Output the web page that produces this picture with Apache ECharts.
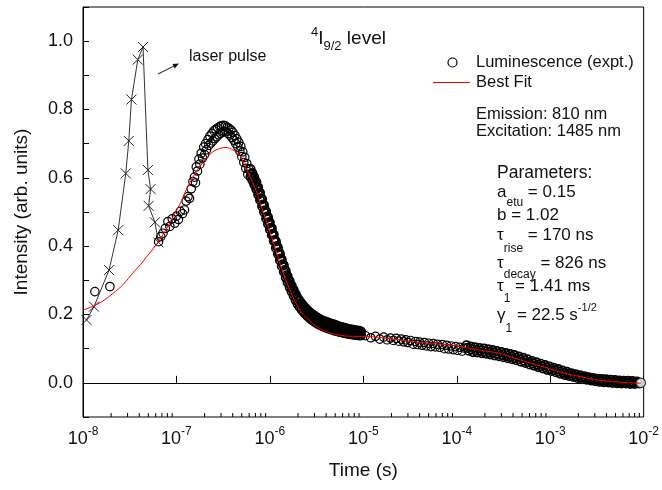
<!DOCTYPE html>
<html>
<head>
<meta charset="utf-8">
<script src="https://cdn.jsdelivr.net/npm/echarts@6/dist/echarts.min.js"></script>
<style>html,body{margin:0;padding:0;background:#fff}#c{width:662px;height:490px}</style>
</head>
<body>
<div id="c"></div>
<script>
// ---- data ----
const xTickExponents = [-8, -7, -6, -5, -4, -3, -2];
const yTickLabels = ['0.0', '0.2', '0.4', '0.6', '0.8', '1.0'];

// laser pulse (x markers), in acquisition order
const laserPulse = [
  [1.09e-8, 0.184], [1.31e-8, 0.223], [1.90e-8, 0.330], [2.38e-8, 0.447],
  [2.87e-8, 0.613], [3.09e-8, 0.708], [3.30e-8, 0.829], [3.86e-8, 0.946],
  [4.39e-8, 0.983], [4.95e-8, 0.623], [5.29e-8, 0.567], [5.04e-8, 0.518],
  [5.88e-8, 0.470], [6.44e-8, 0.411]
];

// luminescence (open circles)
const lumEarly = [[1.34e-8, 0.267], [1.94e-8, 0.282]];
const lumRise = [
  [6.44e-8,0.413],[6.8e-8,0.428],[7.18e-8,0.438],[7.6e-8,0.452],[8.1e-8,0.472],[8.5e-8,0.458],
  [9.0e-8,0.480],[9.6e-8,0.467],[1.0e-7,0.488],[1.05e-7,0.478],[1.1e-7,0.502],[1.16e-7,0.495],
  [1.22e-7,0.506],[1.27e-7,0.532],[1.33e-7,0.545],[1.38e-7,0.540],[1.44e-7,0.568],[1.5e-7,0.589],
  [1.56e-7,0.602],[1.6e-7,0.585],[1.63e-7,0.632],[1.68e-7,0.620],[1.74e-7,0.655],[1.78e-7,0.640],
  [1.84e-7,0.672],[1.9e-7,0.658],[1.96e-7,0.690],[2.0e-7,0.668],[2.05e-7,0.700],[2.1e-7,0.682],
  [2.17e-7,0.712],[2.22e-7,0.695],[2.28e-7,0.722],[2.34e-7,0.702],[2.4e-7,0.730],[2.46e-7,0.708],
  [2.52e-7,0.738],[2.58e-7,0.715],[2.64e-7,0.742],[2.7e-7,0.720],[2.76e-7,0.746],[2.83e-7,0.726],
  [2.9e-7,0.750],[2.96e-7,0.730],[3.03e-7,0.752],[3.1e-7,0.734],[3.18e-7,0.754],[3.25e-7,0.736],
  [3.33e-7,0.752],[3.4e-7,0.735],[3.48e-7,0.748],[3.56e-7,0.730],[3.65e-7,0.745],[3.74e-7,0.725],
  [3.83e-7,0.740],[3.92e-7,0.718],[4.02e-7,0.733],[4.12e-7,0.710],[4.22e-7,0.724],[4.32e-7,0.700],
  [4.43e-7,0.714],[4.54e-7,0.690],[4.65e-7,0.704],[4.77e-7,0.678],[4.89e-7,0.692],[5.01e-7,0.662],
  [5.13e-7,0.676],[5.26e-7,0.645],[5.39e-7,0.660],[5.52e-7,0.628],[5.66e-7,0.642],[5.8e-7,0.610],
  [5.95e-7,0.625]
];
const lumDecay = [
  [6.2e-7,0.626],[6.2e-7,0.603],[6.5e-7,0.614],[6.5e-7,0.593],[6.8e-7,0.602],[6.8e-7,0.581],
  [7.15e-7,0.588],[7.15e-7,0.567],[7.5e-7,0.572],[7.5e-7,0.551],[7.85e-7,0.556],[7.85e-7,0.535],
  [8.25e-7,0.538],[8.25e-7,0.517],[8.65e-7,0.520],[8.65e-7,0.500],[9.1e-7,0.502],[9.1e-7,0.482],
  [9.55e-7,0.485],[9.55e-7,0.465],[1.0e-6,0.469],[1.0e-6,0.449],[1.05e-6,0.452],[1.05e-6,0.433],
  [1.1e-6,0.434],[1.1e-6,0.415],[1.16e-6,0.414],[1.16e-6,0.395],[1.22e-6,0.396],[1.22e-6,0.377],
  [1.28e-6,0.378],[1.28e-6,0.359],[1.34e-6,0.361],[1.34e-6,0.342],[1.41e-6,0.344],[1.41e-6,0.325],
  [1.48e-6,0.327],[1.48e-6,0.308],[1.55e-6,0.312],[1.55e-6,0.294],[1.63e-6,0.298],[1.63e-6,0.280],
  [1.71e-6,0.285],[1.71e-6,0.267],[1.8e-6,0.272],[1.8e-6,0.254],[1.89e-6,0.260],[1.89e-6,0.242],
  [1.98e-6,0.249],[1.98e-6,0.231],[2.08e-6,0.240],[2.08e-6,0.222],[2.19e-6,0.232],[2.19e-6,0.214],
  [2.3e-6,0.225],[2.3e-6,0.207],[2.41e-6,0.218],[2.41e-6,0.201],[2.53e-6,0.212],[2.53e-6,0.195],
  [2.66e-6,0.207],[2.66e-6,0.190],[2.79e-6,0.202],[2.79e-6,0.185],[2.93e-6,0.198],[2.93e-6,0.181],
  [3.08e-6,0.194],[3.08e-6,0.177],[3.23e-6,0.190],[3.23e-6,0.173],[3.39e-6,0.187],[3.39e-6,0.170],
  [3.56e-6,0.184],[3.56e-6,0.167],[3.74e-6,0.181],[3.74e-6,0.164],[3.93e-6,0.179],[3.93e-6,0.162],
  [4.13e-6,0.177],[4.13e-6,0.160],[4.33e-6,0.175],[4.33e-6,0.158],[4.55e-6,0.173],[4.55e-6,0.156],
  [4.78e-6,0.171],[4.78e-6,0.154],[5.02e-6,0.169],[5.02e-6,0.152],[5.27e-6,0.167],[5.27e-6,0.151],
  [5.53e-6,0.165],[5.53e-6,0.149],[5.8e-6,0.163],[5.8e-6,0.148],[6.1e-6,0.162],[6.1e-6,0.146],
  [6.4e-6,0.160],[6.4e-6,0.145],[6.7e-6,0.158],[6.7e-6,0.144],[7.05e-6,0.157],[7.05e-6,0.143],
  [7.4e-6,0.156],[7.4e-6,0.142],[7.75e-6,0.155],[7.75e-6,0.141],[8.15e-6,0.154],[8.15e-6,0.140],
  [8.55e-6,0.153],[8.55e-6,0.140],[9.0e-6,0.152],[9.0e-6,0.139],[9.45e-6,0.150],[9.45e-6,0.139]
];
const lumDecayMid = [
  [6.35e-7,0.610],[6.65e-7,0.598],[6.97e-7,0.585],[7.32e-7,0.572],[7.67e-7,0.556],[8.05e-7,0.540],
  [8.45e-7,0.522],[8.87e-7,0.505],[9.32e-7,0.487],[9.77e-7,0.470],[1.025e-6,0.454],[1.075e-6,0.436],
  [1.13e-6,0.418],[1.19e-6,0.400],[1.25e-6,0.382],[1.31e-6,0.364],[1.375e-6,0.347],[1.445e-6,0.330],
  [1.515e-6,0.315],[1.59e-6,0.300],[1.67e-6,0.286],[1.755e-6,0.273],[1.845e-6,0.261],[1.935e-6,0.249],
  [2.03e-6,0.239],[2.135e-6,0.230],[2.245e-6,0.222],[2.355e-6,0.214],[2.47e-6,0.208],[2.595e-6,0.202],
  [2.725e-6,0.197],[2.86e-6,0.192],[3.0e-6,0.188],[3.155e-6,0.184],[3.31e-6,0.180],[3.475e-6,0.177],
  [3.65e-6,0.174],[3.835e-6,0.171],[4.03e-6,0.169],[4.23e-6,0.167],[4.44e-6,0.165],[4.665e-6,0.163],
  [4.9e-6,0.161],[5.145e-6,0.160],[5.4e-6,0.158],[5.665e-6,0.157],[5.95e-6,0.155],[6.25e-6,0.154],
  [6.55e-6,0.152],[6.875e-6,0.151],[7.225e-6,0.150],[7.575e-6,0.149],[7.95e-6,0.148],[8.35e-6,0.147],
  [8.775e-6,0.146],[9.225e-6,0.145]
];
const lumPlateau = [
  [1.05e-5,0.138],[1.2e-5,0.132],[1.35e-5,0.136],[1.5e-5,0.128],[1.65e-5,0.134],[1.8e-5,0.126],
  [1.95e-5,0.131],[2.1e-5,0.124],[2.25e-5,0.130],[2.4e-5,0.122],[2.55e-5,0.128],[2.7e-5,0.120],
  [2.85e-5,0.126],[3.0e-5,0.118],[3.2e-5,0.124],[3.4e-5,0.113],[3.6e-5,0.121],[3.8e-5,0.112],
  [4.0e-5,0.119],[4.25e-5,0.110],[4.5e-5,0.118],[4.75e-5,0.108],[5.0e-5,0.116],[5.3e-5,0.106],
  [5.6e-5,0.115],[5.9e-5,0.105],[6.2e-5,0.113],[6.6e-5,0.104],[7.0e-5,0.112],[7.4e-5,0.100],
  [7.8e-5,0.110],[8.2e-5,0.099],[8.7e-5,0.108],[9.2e-5,0.097],[9.7e-5,0.106],[1.02e-4,0.095],
  [1.08e-4,0.104],[1.14e-4,0.093],[1.2e-4,0.102]
];
const lumTail = [
  [1.27e-4,0.110],[1.34e-4,0.094],[1.41e-4,0.106],[1.49e-4,0.090],[1.57e-4,0.104],[1.66e-4,0.089],
  [1.75e-4,0.102],[1.85e-4,0.087],[1.95e-4,0.100],[2.06e-4,0.085],[2.17e-4,0.098],[2.29e-4,0.083],
  [2.42e-4,0.096],[2.55e-4,0.080],[2.69e-4,0.093],[2.84e-4,0.078],[3.0e-4,0.090],[3.16e-4,0.075],
  [3.34e-4,0.087],[3.52e-4,0.072],[3.72e-4,0.084],[3.92e-4,0.069],[4.14e-4,0.081],[4.37e-4,0.066],
  [4.61e-4,0.077],[4.87e-4,0.062],[5.14e-4,0.073],[5.42e-4,0.058],[5.72e-4,0.069],[6.04e-4,0.054],
  [6.38e-4,0.064],[6.73e-4,0.050],[7.1e-4,0.060],[7.5e-4,0.046],[7.9e-4,0.056],[8.35e-4,0.042],
  [8.8e-4,0.052],[9.3e-4,0.038],[9.8e-4,0.048],[1.03e-3,0.035],[1.09e-3,0.044],[1.15e-3,0.031],
  [1.22e-3,0.040],[1.28e-3,0.027],[1.35e-3,0.036],[1.43e-3,0.023],[1.51e-3,0.032],[1.59e-3,0.020],
  [1.68e-3,0.028],[1.77e-3,0.017],[1.87e-3,0.025],[1.97e-3,0.014],[2.08e-3,0.022],[2.2e-3,0.011],
  [2.32e-3,0.019],[2.45e-3,0.009],[2.58e-3,0.016],[2.73e-3,0.007],[2.88e-3,0.014],[3.04e-3,0.005],
  [3.2e-3,0.012],[3.38e-3,0.003],[3.57e-3,0.011],[3.76e-3,0.002],[3.97e-3,0.010],[4.19e-3,0.001],
  [4.42e-3,0.009],[4.67e-3,0.000],[4.93e-3,0.008],[5.2e-3,-0.001],[5.49e-3,0.007],[5.79e-3,-0.002],
  [6.11e-3,0.006],[6.45e-3,-0.002],[6.81e-3,0.006],[7.18e-3,-0.003],[7.58e-3,0.005],[8.0e-3,-0.003],
  [8.44e-3,0.004],[8.9e-3,-0.002]
];
const lumTailMid = [
  [1.3e-4,0.102],[1.45e-4,0.098],[1.61e-4,0.096],[1.8e-4,0.094],[2.0e-4,0.092],[2.23e-4,0.090],
  [2.48e-4,0.088],[2.76e-4,0.085],[3.08e-4,0.082],[3.43e-4,0.079],[3.82e-4,0.076],[4.25e-4,0.073],
  [4.74e-4,0.069],[5.28e-4,0.065],[5.88e-4,0.061],[6.55e-4,0.057],[7.3e-4,0.053],[8.12e-4,0.049],
  [9.05e-4,0.045],[1.0e-3,0.041],[1.12e-3,0.037],[1.25e-3,0.033],[1.39e-3,0.029],[1.55e-3,0.026],
  [1.72e-3,0.022],[1.92e-3,0.019],[2.14e-3,0.016],[2.38e-3,0.014],[2.65e-3,0.011],[2.95e-3,0.009],
  [3.29e-3,0.007],[3.66e-3,0.006],[4.08e-3,0.005],[4.54e-3,0.004],[5.06e-3,0.003],[5.64e-3,0.002],
  [6.28e-3,0.002],[6.99e-3,0.001],[7.79e-3,0.001],[8.67e-3,0.001]
];
const lumLast = [9.3e-3, 0.000];

// best fit (red line)
const fitT = [1.0e-8,1.3e-8,1.6e-8,2.1e-8,2.7e-8,3.4e-8,4.1e-8,4.8e-8,5.6e-8,6.6e-8,7.8e-8,9.2e-8,
  1.1e-7,1.27e-7,1.5e-7,1.77e-7,2.1e-7,2.45e-7,2.9e-7,3.4e-7,4.0e-7,4.72e-7,5.3e-7,6.0e-7,7.1e-7,
  8.0e-7,9.1e-7,1.03e-6,1.16e-6,1.3e-6,1.48e-6,1.68e-6,1.9e-6,2.2e-6,2.63e-6,3.2e-6,3.96e-6,5.0e-6,
  6.5e-6,9e-6,1.24e-5,1.7e-5,2.4e-5,3.5e-5,5.5e-5,8.2e-5,1.2e-4,1.8e-4,2.8e-4,4.2e-4,6.3e-4,
  9.5e-4,1.44e-3,2.2e-3,3.24e-3,5e-3,7e-3,9.3e-3];
const fitY = [0.213,0.225,0.238,0.262,0.288,0.321,0.345,0.369,0.392,0.418,0.450,0.486,
  0.525,0.564,0.602,0.632,0.658,0.676,0.686,0.689,0.682,0.667,0.642,0.608,0.564,
  0.520,0.477,0.432,0.389,0.345,0.301,0.265,0.233,0.205,0.184,0.163,0.150,0.142,
  0.137,0.136,0.135,0.131,0.126,0.120,0.115,0.111,0.104,0.095,0.087,0.072,0.057,
  0.043,0.028,0.017,0.008,0.003,0.000,-0.001];

// ---- chart ----
const FONT = 'Liberation Sans, Arial, sans-serif';
const INK = '#111';
const minorTickVals = [];
for (let e = -8; e < -2; e++) for (let k = 2; k <= 9; k++) minorTickVals.push([k * Math.pow(10, e)]);

const chart = echarts.init(document.getElementById('c'), null, {renderer: 'canvas'});

const mainStyle = {fontSize: 17, fontFamily: FONT, color: INK, padding: [4, 0, 0, 0], verticalAlign: 'top'};
const subStyle = (d) => ({fontSize: 12, fontFamily: FONT, color: INK, padding: [8 + d, 0, 0, 0], verticalAlign: 'top'});
const supStyle = {fontSize: 11, fontFamily: FONT, color: INK, verticalAlign: 'top'};
const titleMain = {fontSize: 19, fontFamily: FONT, color: INK, padding: [4, 0, 0, 0], verticalAlign: 'top'};
const titleSub = {fontSize: 13, fontFamily: FONT, color: INK, padding: [14, 0, 0, 0], verticalAlign: 'top'};
const titleSup = {fontSize: 13, fontFamily: FONT, color: INK, verticalAlign: 'top'};

function richText(left, top, text, rich) {
  return {type: 'text', left: left, top: top, style: {text: text, rich: rich, font: '17px ' + FONT, fill: INK}};
}

function ringSeries(name, data, lw) {
  return {
    name: name, type: 'custom', z: 2, silent: true, data: data,
    renderItem: (params, api) => {
      const p = api.coord([api.value(0), api.value(1)]);
      return {type: 'circle', shape: {cx: p[0], cy: p[1], r: 4.2}, style: {fill: null, stroke: '#000', lineWidth: lw}};
    }
  };
}

const option = {
  animation: false,
  backgroundColor: '#fff',
  grid: {left: 83, right: 15, top: 7, bottom: 73, show: true, borderColor: '#000', borderWidth: 1},
  xAxis: {
    type: 'log', logBase: 10, min: 1e-8, max: 1e-2, interval: 1,
    name: 'Time (s)', nameLocation: 'middle', nameGap: 44,
    nameTextStyle: {fontSize: 19, fontFamily: FONT, color: INK},
    axisLine: {lineStyle: {color: '#000', width: 1}},
    axisTick: {inside: true, length: 7, lineStyle: {color: '#000'}},
    splitLine: {show: false},
    axisLabel: {
      margin: 9, color: INK,
      formatter: (v) => '{b|10}{s|' + Math.round(Math.log10(v)) + '}',
      rich: {
        b: {fontSize: 18, fontFamily: FONT, color: INK, padding: [4, 0, 0, 0], verticalAlign: 'top'},
        s: {fontSize: 12, fontFamily: FONT, color: INK, verticalAlign: 'top'}
      }
    }
  },
  yAxis: {
    type: 'value', min: -0.1, max: 1.1, interval: 0.1,
    name: 'Intensity (arb. units)', nameLocation: 'middle', nameGap: 52,
    nameTextStyle: {fontSize: 19, fontFamily: FONT, color: INK},
    axisLine: {show: true, lineStyle: {color: '#000', width: 1}},
    axisTick: {show: true, inside: true, length: 6, lineStyle: {color: '#000'}},
    splitLine: {show: false},
    axisLabel: {
      margin: 10, fontSize: 18, fontFamily: FONT, color: INK,
      formatter: (v) => { const r = Math.round(v * 10); const s = (r / 10).toFixed(1); return r >= 0 && yTickLabels.indexOf(s) >= 0 ? s : ''; }
    }
  },
  series: [
    ringSeries('Luminescence (expt.)', [].concat(lumEarly, lumRise, lumPlateau), 1.2),
    ringSeries('Luminescence dense', [].concat(lumDecay, lumDecayMid, lumTail, lumTailMid), 1.7),
    {
      name: 'Luminescence end', type: 'scatter', symbol: 'circle', symbolSize: 9.5, z: 2,
      itemStyle: {color: '#fff', borderColor: '#000', borderWidth: 1.2},
      data: [lumLast]
    },
    {
      name: 'Laser pulse', type: 'line', z: 3,
      symbol: 'path://M0,0L10,10M10,0L0,10', symbolSize: 10, showSymbol: true, showAllSymbol: true,
      itemStyle: {color: 'rgba(0,0,0,0)', borderColor: '#222', borderWidth: 1},
      lineStyle: {color: '#333', width: 1},
      data: laserPulse
    },
    {
      name: 'Best Fit', type: 'line', z: 4, symbol: 'none', smooth: 0.3,
      lineStyle: {color: '#ff0000', width: 1},
      data: fitT.map((t, i) => [t, fitY[i]])
    },
    {
      type: 'custom', z: 5, silent: true,
      data: minorTickVals,
      renderItem: (params, api) => {
        const p = api.coord([api.value(0), -0.1]);
        return {type: 'line', shape: {x1: p[0], y1: p[1], x2: p[0], y2: p[1] - 4}, style: {stroke: '#000', lineWidth: 1}};
      }
    }
  ],
  graphic: [
    // title
    richText(311, 25.5, '{p|4}{m|I}{s|9/2}{m| level}', {m: titleMain, p: titleSup, s: titleSub}),
    // laser pulse annotation
    {type: 'text', left: 189, top: 49, style: {text: 'laser pulse', font: '16px ' + FONT, fill: INK}},
    {type: 'line', shape: {x1: 158, y1: 74, x2: 175, y2: 65.5}, style: {stroke: INK, lineWidth: 1}},
    {type: 'polygon', shape: {points: [[179, 63.5], [174.7, 68.4], [172.5, 64.0]]}, style: {fill: INK}},
    // legend
    {type: 'circle', shape: {cx: 452.5, cy: 62.5, r: 4.5}, style: {fill: '#fff', stroke: '#000', lineWidth: 1.2}},
    {type: 'text', left: 476, top: 54, style: {text: 'Luminescence (expt.)', font: '16.5px ' + FONT, fill: INK}},
    {type: 'line', shape: {x1: 433, y1: 82.5, x2: 470, y2: 82.5}, style: {stroke: '#ff0000', lineWidth: 1}},
    {type: 'text', left: 476, top: 74, style: {text: 'Best Fit', font: '16.5px ' + FONT, fill: INK}},
    // conditions
    {type: 'text', left: 476, top: 106, style: {text: 'Emission: 810 nm', font: '16.5px ' + FONT, fill: INK}},
    {type: 'text', left: 476, top: 123, style: {text: 'Excitation: 1485 nm', font: '16.5px ' + FONT, fill: INK}},
    // parameters
    {type: 'text', left: 497, top: 164, style: {text: 'Parameters:', font: '17.5px ' + FONT, fill: INK}},
    richText(497, 183.5, '{m|a}{s|etu}{m| = 0.15}', {m: mainStyle, s: subStyle(9)}),
    richText(497, 207.2, '{m|b = 1.02}', {m: mainStyle}),
    richText(497, 226.7, '{m|τ}{s|rise}{m| = 170 ns}', {m: mainStyle, s: subStyle(12)}),
    richText(497, 254.7, '{m|τ}{s|decay}{m| = 826 ns}', {m: mainStyle, s: subStyle(10)}),
    richText(497, 277.5, '{m|τ}{s|1}{m| = 1.41 ms}', {m: mainStyle, s: subStyle(11)}),
    richText(497, 302.5, '{m|γ}{s|1}{m| = 22.5 s}{p|-1/2}', {m: mainStyle, s: subStyle(12), p: supStyle})
  ]
};
chart.setOption(option);
</script>
</body>
</html>
